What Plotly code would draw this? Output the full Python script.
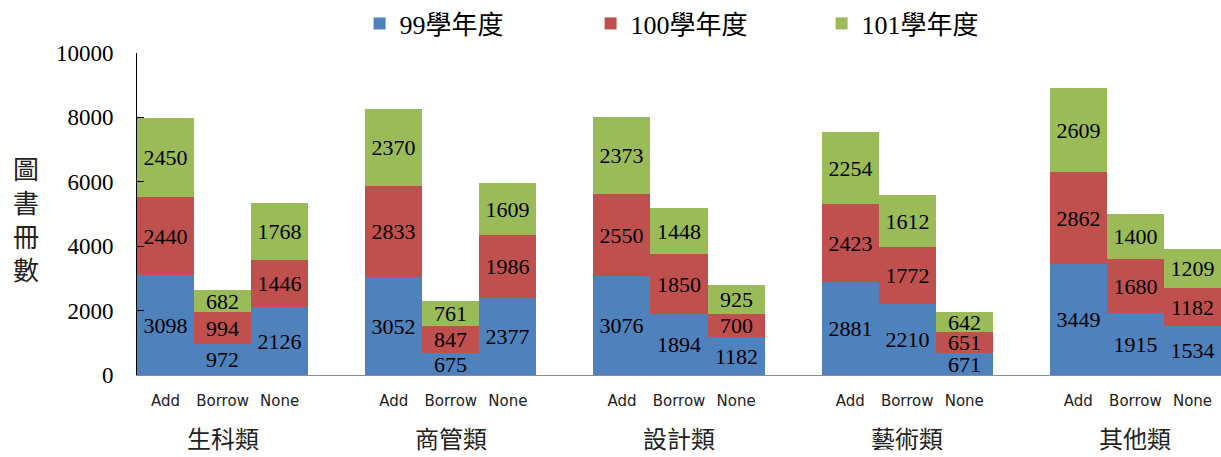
import plotly.graph_objects as go

groups = ["生科類", "商管類", "設計類", "藝術類", "其他類"]
subs = ["Add", "Borrow", "None"]
series_names = ["99學年度", "100學年度", "101學年度"]
y99 = [3098, 972, 2126, 3052, 675, 2377, 3076, 1894, 1182, 2881, 2210, 671, 3449, 1915, 1534]
y100 = [2440, 994, 1446, 2833, 847, 1986, 2550, 1850, 700, 2423, 1772, 651, 2862, 1680, 1182]
y101 = [2450, 682, 1768, 2370, 761, 1609, 2373, 1448, 925, 2254, 1612, 642, 2609, 1400, 1209]
colors = ["#4F81BD", "#C0504D", "#9BBB59"]
y_ticks = [0, 2000, 4000, 6000, 8000, 10000]
y_tick_text = ["0", "2000", "4000", "6000", "8000", "10000"]

# category keys for bars, with blank spacer categories between groups
x_keys = [f"{g}|{s}" for g in groups for s in subs]
cat_order = []
for i, g in enumerate(groups):
    cat_order += [f"{g}|{s}" for s in subs]
    if i < len(groups) - 1:
        cat_order.append(f"gap{i}")

fig = go.Figure()
for name, vals, col in zip(series_names, [y99, y100, y101], colors):
    fig.add_trace(go.Bar(
        x=x_keys, y=vals, name=name,
        marker=dict(color=col, line=dict(width=0)),
        text=vals, texttemplate="%{text}",
        textposition="inside", insidetextanchor="middle",
        textangle=0, constraintext="none",
        textfont=dict(family="Liberation Serif", size=22, color="black"),
    ))

fig.update_layout(
    width=1221, height=457,
    margin=dict(l=137, r=0, t=52, b=82),
    barmode="stack", bargap=0,
    plot_bgcolor="white", paper_bgcolor="white",
    legend=dict(
        orientation="h", x=0.525, xanchor="center", y=1.093, yanchor="middle",
        font=dict(family="Liberation Serif, Noto Sans CJK TC", size=26, color="black"),
        entrywidth=186, entrywidthmode="pixels",
        traceorder="normal",
    ),
    showlegend=True,
)

fig.update_xaxes(
    type="category", categoryorder="array", categoryarray=cat_order,
    range=[-0.5, 18.5],
    tickvals=x_keys, ticktext=subs * len(groups),
    tickfont=dict(family="DejaVu Sans", size=15, color="#222"),
    ticks="outside", ticklen=12, tickcolor="rgba(0,0,0,0)",
    showline=True, linecolor="#8c8c8c", linewidth=1,
    showgrid=False, zeroline=False,
)
fig.update_yaxes(
    range=[0, 10000], tickvals=y_ticks, ticktext=y_tick_text,
    tickfont=dict(family="Liberation Serif", size=23, color="black"),
    ticks="inside", ticklen=7, tickcolor="black",
    ticklabelstandoff=18,
    showline=True, linecolor="black", linewidth=1,
    showgrid=False, zeroline=False,
)

# group labels under each group
for g in groups:
    fig.add_annotation(
        x=f"{g}|Borrow", xref="x", y=-0.193, yref="paper",
        text=g, showarrow=False, yanchor="middle",
        font=dict(family="Noto Sans CJK TC", size=24, color="#222"),
    )

# vertical y-axis title
fig.add_annotation(
    x=-0.102, xref="paper", y=0.489, yref="paper",
    text="<br>".join("圖書冊數"), showarrow=False,
    xanchor="center", yanchor="middle",
    font=dict(family="Noto Sans CJK TC", size=26, color="#222"),
)

fig.write_html("out.html")
